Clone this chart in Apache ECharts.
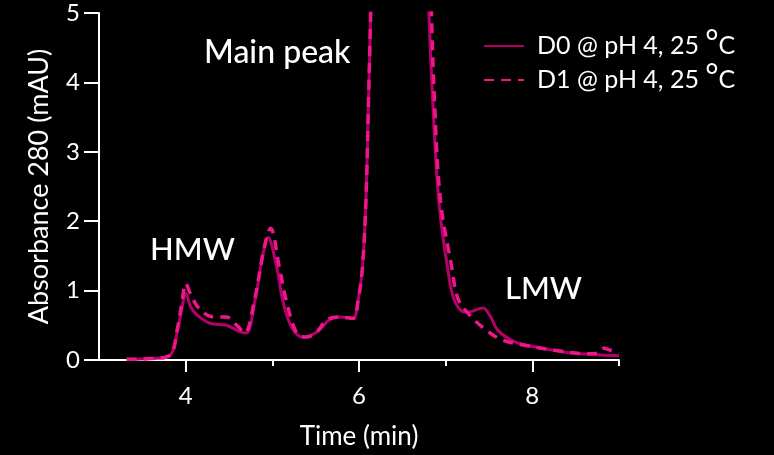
<!DOCTYPE html>
<html>
<head>
<meta charset="utf-8">
<script src="https://cdn.jsdelivr.net/npm/echarts@6/dist/echarts.min.js"></script>
<style>html,body{margin:0;padding:0;background:#000;}#c{width:774px;height:455px;}</style>
</head>
<body>
<div id="c"></div>
<script>
var seriesNames = ['D0 @ pH 4, 25 °C', 'D1 @ pH 4, 25 °C'];
var xTickLabels = [4, 6, 8];
var xMinorTicks = [5, 7, 9];
var yTicks = [0, 1, 2, 3, 4, 5];
var d0Time = [3.32,3.6,3.82,3.9,3.96,4.0,4.06,4.13,4.28,4.47,4.62,4.7,4.8,4.88,4.95,5.05,5.12,5.22,5.35,5.51,5.66,5.78,5.93,5.99,6.04,6.08,6.11,6.14,6.2,6.3,6.45,6.6,6.7,6.8,6.85,6.92,7.02,7.1,7.22,7.3,7.43,7.52,7.6,7.8,8.03,8.45,9.0];
var d0Value = [0.01,0.02,0.07,0.39,0.77,0.96,0.76,0.65,0.53,0.5,0.41,0.39,0.86,1.44,1.77,1.34,0.86,0.48,0.33,0.4,0.58,0.62,0.6,0.86,1.34,2.3,3.75,5.3,9,16,22,16,9,5.2,3.75,2.3,1.34,0.86,0.69,0.7,0.75,0.62,0.43,0.26,0.19,0.1,0.06];
var d1Time = [3.32,3.6,3.82,3.9,3.96,4.0,4.07,4.17,4.32,4.47,4.59,4.68,4.8,4.9,4.98,5.08,5.16,5.28,5.39,5.51,5.63,5.78,5.93,5.99,6.04,6.08,6.11,6.14,6.2,6.3,6.45,6.6,6.72,6.83,6.87,6.94,7.07,7.15,7.33,7.5,7.65,7.88,8.26,8.65,8.75,8.82,8.9,9.0];
var d1Value = [0.01,0.02,0.07,0.42,0.85,1.1,0.91,0.72,0.62,0.62,0.5,0.39,0.9,1.58,1.9,1.34,0.86,0.39,0.33,0.4,0.58,0.62,0.6,0.86,1.34,2.3,3.75,5.3,9,16,22,16,9,5.2,3.75,2.3,1.34,0.86,0.58,0.4,0.29,0.22,0.14,0.09,0.1,0.17,0.14,0.1];

function pairs(t, v) { return t.map(function (x, i) { return [x, v[i]]; }); }

var font = 'Lato, "DejaVu Sans", sans-serif';
var chart = echarts.init(document.getElementById('c'), null, {renderer: 'canvas'});
chart.setOption({
  backgroundColor: '#000',
  animation: false,
  grid: {left: 99, right: 155, top: 13, bottom: 95, containLabel: false},
  legend: {
    orient: 'vertical', left: 478, top: 22, itemWidth: 40, itemHeight: 14, itemGap: 2,
    itemStyle: {opacity: 0, borderWidth: 0},
    formatter: function (n) { return n.replace('°', '{deg|°}'); },
    textStyle: {color: '#fff', fontSize: 25, fontFamily: font, padding: [0, 0, 0, 8],
      rich: {deg: {color: '#fff', fontSize: 32, fontFamily: font, verticalAlign: 'top', padding: [0, 0, 6, 0]}}},
    data: seriesNames
  },
  xAxis: [{
    type: 'value', min: 3, max: 9,
    name: 'Time (min)', nameLocation: 'middle', nameGap: 64,
    nameTextStyle: {color: '#fff', fontSize: 26, fontFamily: font},
    axisLine: {show: true, onZero: false, lineStyle: {color: '#fff', width: 2}},
    axisTick: {show: true, customValues: xTickLabels, length: 12, lineStyle: {color: '#fff', width: 2}},
    axisLabel: {show: true, customValues: xTickLabels, color: '#fff', fontSize: 24, fontFamily: font, margin: 24},
    splitLine: {show: false}
  }, {
    type: 'value', min: 3, max: 9, position: 'bottom',
    axisLine: {show: false},
    axisTick: {show: true, customValues: xMinorTicks, length: 6, lineStyle: {color: '#fff', width: 2}},
    axisLabel: {show: false},
    splitLine: {show: false}
  }],
  yAxis: {
    type: 'value', min: 0, max: 5, interval: 1,
    name: 'Absorbance 280 (mAU)', nameLocation: 'middle', nameGap: 46,
    nameTextStyle: {color: '#fff', fontSize: 27, fontFamily: font},
    axisLine: {show: true, lineStyle: {color: '#fff', width: 2}},
    axisTick: {show: true, length: 15, lineStyle: {color: '#fff', width: 2}},
    axisLabel: {color: '#fff', fontSize: 24, fontFamily: font, margin: 19},
    splitLine: {show: false}
  },
  series: [{
    name: seriesNames[0], type: 'line', xAxisIndex: 0, data: pairs(d0Time, d0Value),
    smooth: 0.35, symbol: 'none', clip: true, z: 3,
    lineStyle: {color: '#b5006a', width: 3}, itemStyle: {color: '#b5006a'}
  }, {
    name: seriesNames[1], type: 'line', xAxisIndex: 0, data: pairs(d1Time, d1Value),
    smooth: 0.35, symbol: 'none', clip: true, z: 4,
    lineStyle: {color: '#f0158a', width: 3.5, type: [10, 7]}, itemStyle: {color: '#f0158a'}
  }],
  graphic: [
    {type: 'text', left: 204, top: 37, style: {text: 'Main peak', fill: '#fff', font: '500 32px ' + font}},
    {type: 'text', left: 150, top: 234, style: {text: 'HMW', fill: '#fff', font: '500 31px ' + font}},
    {type: 'text', left: 505, top: 273, style: {text: 'LMW', fill: '#fff', font: '500 31px ' + font}}
  ]
});
</script>
</body>
</html>
